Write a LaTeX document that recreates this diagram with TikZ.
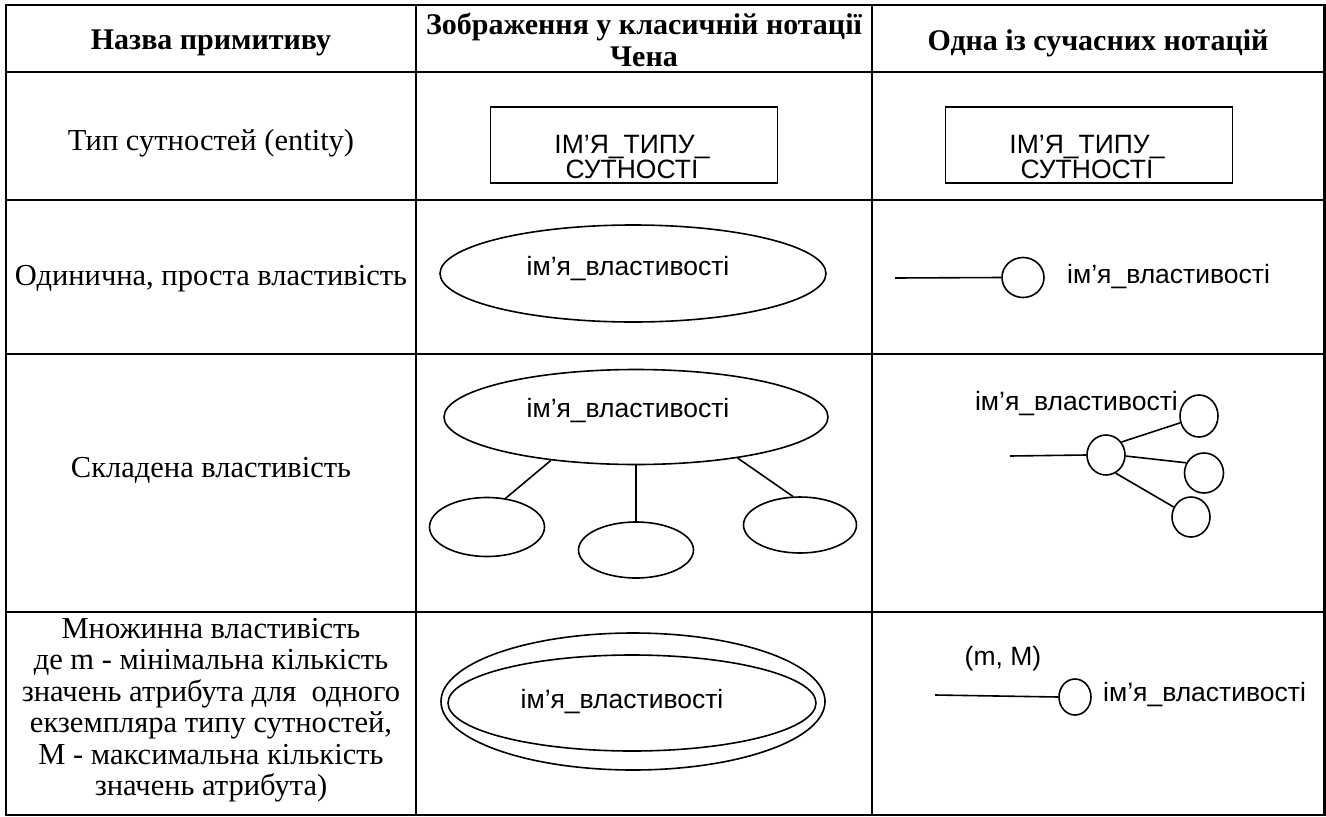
\documentclass[tikz,border=0pt]{standalone}
\usepackage{fontspec}
\setmainfont{Liberation Serif}
\newfontfamily\arialfont{Liberation Sans}
\usetikzlibrary{shapes.geometric}

\begin{document}
\begin{tikzpicture}[x=1pt,y=-1pt]
\tikzset{
  gridline/.style={line width=2.6pt},
  shapeline/.style={line width=1.6pt},
  hdr/.style={font=\fontsize{30}{32}\selectfont\bfseries, align=center, inner sep=0},
  lbl/.style={font=\fontsize{30.5}{31.5}\selectfont, align=center, inner sep=0},
  sans/.style={font=\arialfont\fontsize{26.5}{22}\selectfont, inner sep=0},
  ent/.style={draw, shapeline, inner sep=0, minimum width=287pt, minimum height=76pt},
  ell/.style={ellipse, draw, shapeline, inner sep=0},
}
\useasboundingbox (0,0) rectangle (1326,817);

% table grid
\draw[gridline] (6,5) rectangle (1324.5,815);
\foreach \yy in {72,200,354,612} \draw[gridline] (6,\yy) -- (1324.5,\yy);
\foreach \xx in {416,872} \draw[gridline] (\xx,5) -- (\xx,815);

% header row
\node[hdr] (h1) at (211,43) {Назва примитиву};
\node[hdr] (h2) at (644,40) {Зображення у класичній нотації\\Чена};
\node[hdr] (h3) at (1098,43) {Одна із сучасних нотацій};

% first column
\node[lbl] (r1) at (211,143) {Тип сутностей (entity)};
\node[lbl] (r2) at (211,279) {Одинична, проста властивість};
\node[lbl] (r3) at (211,470) {Складена властивість};
\node[lbl] (r4) at (211,710) {Множинна властивість\\де m - мінімальна кількість\\значень атрибута для\ \ одного\\екземпляра типу сутностей,\\М - максимальна кількість\\значень атрибута)};

% entity type
\node[ent] (chenbox) at (634,145) {};
\node[sans, align=center, font=\arialfont\fontsize{26.5}{21.5}\selectfont] (chentxt) at (632,157) {ІМ’Я\_ТИПУ\_\\СУТНОСТІ};
\node[ent] (modbox) at (1089,145) {};
\node[sans, align=center, font=\arialfont\fontsize{26.5}{21.5}\selectfont] (modtxt) at (1087,157) {ІМ’Я\_ТИПУ\_\\СУТНОСТІ};

% simple attribute
\node[ell, minimum width=386pt, minimum height=97pt] (e2) at (633,273.5) {};
\node[sans] (t2) at (628,269) {ім’я\_властивості};
\coordinate (s2) at (895,278);
\node[ell, minimum width=42pt, minimum height=40pt] (c2) at (1023,277.5) {};
\draw[shapeline] (s2) -- (c2.west);
\node[sans, anchor=west] (m2) at (1067,277) {ім’я\_властивості};

% composite attribute
\node[ell, minimum width=384pt, minimum height=95pt] (e3) at (636,417) {};
\node[sans] (t3) at (628,411) {ім’я\_властивості};
\node[ell, minimum width=115pt, minimum height=59pt] (l3) at (487,527) {};
\node[ell, minimum width=115pt, minimum height=56pt] (mid3) at (636,550) {};
\node[ell, minimum width=113pt, minimum height=56pt] (r3s) at (800,525) {};
\draw[shapeline] (e3.207) -- (l3.57);
\draw[shapeline] (e3.south) -- (mid3.north);
\draw[shapeline] (e3.338) -- (r3s.104);

\node[ell, minimum width=38pt, minimum height=40pt] (cc) at (1106,455) {};
\node[ell, minimum width=38pt, minimum height=42pt] (ct) at (1199,416) {};
\node[ell, minimum width=39pt, minimum height=40pt] (cr) at (1204,473) {};
\node[ell, minimum width=38pt, minimum height=40pt] (cb) at (1191,517) {};
\coordinate (s3) at (1010,456);
\draw[shapeline] (s3) -- (cc.west);
\draw[shapeline] (cc.40) -- (ct.200);
\draw[shapeline] (cc.-3) -- (cr.150);
\draw[shapeline] (cc.298) -- (cb.150);
\node[sans, anchor=east] (m3) at (1178,404) {ім’я\_властивості};

% multivalued attribute
\node[ell, minimum width=384pt, minimum height=137pt] (o4) at (633,701.5) {};
\node[ell, minimum width=368pt, minimum height=96pt] (i4) at (632,703) {};
\node[sans] (t4) at (622,702) {ім’я\_властивості};
\coordinate (s4) at (935,695);
\node[ell, minimum width=32pt, minimum height=36pt] (c4) at (1075,697) {};
\draw[shapeline] (s4) -- (c4.west);
\node[sans] (mm) at (1003,659) {(m, M)};
\node[sans, anchor=west] (m4) at (1103,695) {ім’я\_властивості};
\end{tikzpicture}
\end{document}
